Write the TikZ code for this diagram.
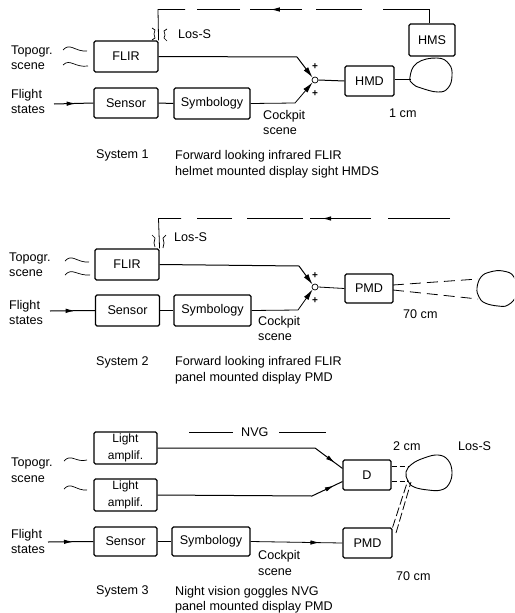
\documentclass[tikz,border=0pt]{standalone}
\usepackage{fontspec}
\setmainfont{Liberation Sans}
\usetikzlibrary{arrows.meta,decorations.markings}
\tikzset{
  blk/.style={draw,line width=1.1pt,rounded corners=1.5pt,inner sep=0pt,font=\fontsize{12.6}{14}\selectfont,align=center},
  lbl/.style={inner sep=0pt,anchor=base west,font=\fontsize{12.6}{14}\selectfont},
  sig/.style={line width=1pt},
  thin sig/.style={line width=0.8pt},
  wedgetip/.style={-{Latex[length=11pt,width=5.5pt]}},
  wedgeat/.style={postaction={decorate},decoration={markings,mark=at position #1 with {\arrow{Latex[length=9pt,width=4.5pt]}}}},
  eye/.style={dash pattern=on 11pt off 6pt,line width=0.8pt},
  jn/.style={circle,draw,fill=white,line width=0.7pt,minimum size=6pt,inner sep=0pt},
  wave/.style={line width=0.7pt}
}
\begin{document}
\begin{tikzpicture}[x=1pt,y=-1pt]
\useasboundingbox (0,0) rectangle (514,613);
\clip (0,0) rectangle (514,613);
% ---------- System 1
\node[blk,minimum width=64pt,minimum height=31pt] (flirA) at (126,56.5) {FLIR};
\node[blk,minimum width=64pt,minimum height=30pt] (senA) at (126,103) {Sensor};
\node[blk,minimum width=76pt,minimum height=31pt] (symA) at (212,103.5) {Symbology};
\node[blk,minimum width=49pt,minimum height=30pt] (hmd) at (369.5,81) {HMD};
\node[blk,minimum width=46pt,minimum height=32pt] (hms) at (432,40) {HMS};
\node[jn] (jA) at (315,80) {};
\coordinate (headAw) at (411,79);
\coordinate (fsA) at (54,104);
\coordinate (b1) at (297,57);
\coordinate (b2) at (295,103);
\coordinate (tA) at (429,9.5);
\coordinate (tB) at (158,9.5);
\draw[line width=0.9pt] plot[smooth cycle,tension=0.75] coordinates {(410,77) (417,63) (437,58) (449,64) (452,76) (448,88) (438,92) (421,88) (413,84)};
\draw[sig,wedgeat=0.55] (fsA) -- (senA.west);
\draw[sig] (senA.east) -- (symA.west);
\draw[sig,wedgetip] (flirA.east) -- (b1) -- (jA.north west);
\draw[thin sig,wedgetip] (symA.east) -- (b2) -- (jA.south west);
\draw[sig] (jA.east) -- (hmd.west);
\draw[thin sig] (hmd.east|-headAw) -- (headAw);
\draw[line width=0.9pt] (hms.north-|tA) -- (tA) -- (383,9.5);
\draw[line width=0.8pt] (362,9.5) -- (316,9.5);
\draw[line width=0.8pt,wedgeat=0.6] (302,9.5) -- (250,9.5);
\draw[line width=0.8pt] (240,9.5) -- (197,9.5);
\draw[line width=0.8pt] (185,9.5) -- (tB) -- (flirA.north east);
\node[lbl] (lA) at (178,38.5) {Los-S};
\node[lbl] (tA1) at (11,54.5) {Topogr.};
\node[lbl] (tA2) at (11,69.5) {scene};
\node[lbl] (fA1) at (11,98.5) {Flight};
\node[lbl] (fA2) at (11,113.5) {states};
\node[lbl] (cA1) at (263,119.5) {Cockpit};
\node[lbl] (cA2) at (263,134.5) {scene};
\node[lbl] (dA) at (389,117) {1 cm};
\node[lbl] (sA) at (96,158.5) {System 1};
\node[lbl] (dA1) at (175,159.5) {Forward looking infrared FLIR};
\node[lbl] (dA2) at (175,175) {helmet mounted display sight HMDS};
\node[lbl,font=\fontsize{10}{12}\bfseries] (pA1) at (312,69) {+};
\node[lbl,font=\fontsize{10}{12}\bfseries] (pA2) at (312,96) {+};
\draw[wave] (63,50) .. controls (70,42) and (75,52) .. (87,51);
\draw[wave] (63,65) .. controls (70,58) and (75,68) .. (88,66);
\draw[wave] (152,28) -- (155,30) -- (154,34) -- (155,38) -- (152,40);
\draw[wave] (167,29) -- (164,31) -- (165,35) -- (164,38) -- (167,41);
% ---------- System 2
\node[blk,minimum width=64pt,minimum height=31pt] (flirB) at (127,264.5) {FLIR};
\node[blk,minimum width=64pt,minimum height=31pt] (senB) at (127.5,310.5) {Sensor};
\node[blk,minimum width=77pt,minimum height=31pt] (symB) at (212.5,310.5) {Symbology};
\node[blk,minimum width=48pt,minimum height=29pt] (pmdB) at (369,288.5) {PMD};
\node[jn] (jB) at (315,287) {};
\coordinate (fsB) at (50,311);
\coordinate (c1) at (299,266);
\coordinate (c2) at (298,310);
\coordinate (eB1) at (478,279);
\coordinate (eB2) at (478,299);
\coordinate (pB1) at (393,285);
\coordinate (pB2) at (393,290);
\draw[line width=0.9pt] plot[smooth cycle,tension=0.7] coordinates {(477,288) (481,277) (490,272) (503,271) (514,277) (516,295) (508,305) (498,306) (485,303) (479,297)};
\draw[sig,wedgeat=0.55] (fsB) -- (senB.west);
\draw[sig] (senB.east) -- (symB.west);
\draw[sig,wedgetip] (flirB.east) -- (c1) -- (jB.north west);
\draw[thin sig,wedgetip] (symB.east) -- (c2) -- (jB.south west);
\draw[thin sig] (jB.east) -- (pmdB.west);
\draw[eye] (pB1) -- (eB1);
\draw[eye] (pB2) -- (eB2);
\draw[line width=0.8pt] (450,218.5) -- (388,218.5);
\draw[line width=0.9pt,wedgeat=0.8] (371,218.5) -- (310,218.5);
\draw[line width=0.8pt] (303,218.5) -- (247,218.5);
\draw[line width=0.8pt] (232,218.5) -- (197,218.5);
\coordinate (tC) at (158.5,218.5);
\draw[line width=0.8pt] (181,218.5) -- (tC) -- (flirB.north east);
\node[lbl] (lB) at (174,241.5) {Los-S};
\node[lbl] (tB1) at (9,261.5) {Topogr.};
\node[lbl] (tB2) at (9,276.5) {scene};
\node[lbl] (fB1) at (9,309) {Flight};
\node[lbl] (fB2) at (9,324.5) {states};
\node[lbl] (cB1) at (258,325.5) {Cockpit};
\node[lbl] (cB2) at (258,340.5) {scene};
\node[lbl] (dB) at (403,318) {70 cm};
\node[lbl] (sB) at (96,365.5) {System 2};
\node[lbl] (dB1) at (175,365.5) {Forward looking infrared FLIR};
\node[lbl] (dB2) at (175,381) {panel mounted display PMD};
\node[lbl,font=\fontsize{10}{12}\bfseries] (pB3) at (312,278) {+};
\node[lbl,font=\fontsize{10}{12}\bfseries] (pB4) at (312,303) {+};
\draw[wave] (65,261) .. controls (72,253) and (77,263) .. (89,262);
\draw[wave] (65,275) .. controls (72,267) and (77,276) .. (90,275);
\draw[wave] (152,235) -- (155,238) -- (154,243) -- (155,247);
\draw[wave] (166,235) -- (163,238) -- (164,243) -- (163,248);
% ---------- System 3
\node[blk,minimum width=63pt,minimum height=32pt,font=\fontsize{12}{16.5}\selectfont] (la1) at (125.5,448) {Light\\amplif.};
\node[blk,minimum width=63pt,minimum height=32pt,font=\fontsize{12}{16.5}\selectfont] (la2) at (125.5,495) {Light\\amplif.};
\node[blk,minimum width=63pt,minimum height=29pt] (senC) at (125.5,541.5) {Sensor};
\node[blk,minimum width=78pt,minimum height=29pt] (symC) at (211,541.5) {Symbology};
\node[blk,minimum width=48pt,minimum height=30pt] (dd) at (367,475) {D};
\node[blk,minimum width=49pt,minimum height=30pt] (pmdC) at (367.5,543) {PMD};
\coordinate (fsC) at (48,542);
\coordinate (d1) at (315,448);
\coordinate (d2) at (312,496);
\coordinate (hC1) at (408,466);
\coordinate (hC2) at (406,481);
\coordinate (hC3) at (408,480);
\coordinate (hC4) at (411,482);
\coordinate (nC1) at (189,432);
\coordinate (nC2) at (233,432);
\coordinate (nC3) at (279,432);
\coordinate (nC4) at (326,432);
\draw[line width=0.9pt] plot[smooth cycle,tension=0.7] coordinates {(406,472) (412,464) (424,458) (438,455) (448,460) (452,472) (449,484) (441,490) (428,490) (414,487) (408,481)};
\draw[sig,wedgeat=0.55] (fsC) -- (senC.west);
\draw[sig] (senC.east) -- (symC.west);
\draw[thin sig,wedgeat=0.75] (symC.east) -- (pmdC.west);
\draw[sig,wedgeat=0.95] (la1.east) -- (d1) -- (dd.165);
\draw[sig,wedgeat=0.95] (la2.east) -- (d2) -- (dd.195);
\draw[eye,dash pattern=on 5pt off 3pt] (dd.east|-hC1) -- (hC1);
\draw[eye,dash pattern=on 5pt off 3pt] (dd.east|-hC2) -- (hC2);
\draw[eye,dash pattern=on 9pt off 3pt] (pmdC.north east) -- (hC3);
\draw[eye,dash pattern=on 9pt off 3pt] (396,533) -- (hC4);
\draw[line width=0.8pt] (nC1) -- (nC2);
\draw[line width=0.8pt] (nC3) -- (nC4);
\node[lbl] (nvg) at (241,436.5) {NVG};
\node[lbl] (tC1) at (11,466) {Topogr.};
\node[lbl] (tC2) at (11,482) {scene};
\node[lbl] (fC1) at (11,538.5) {Flight};
\node[lbl] (fC2) at (11,553.5) {states};
\node[lbl] (cC1) at (258,559.5) {Cockpit};
\node[lbl] (cC2) at (258,575.5) {scene};
\node[lbl] (d2c) at (393,450) {2 cm};
\node[lbl] (lC) at (458,450.5) {Los-S};
\node[lbl] (d70) at (396,580) {70 cm};
\node[lbl] (sC) at (96,594) {System 3};
\node[lbl] (dC1) at (175,595) {Night vision goggles NVG};
\node[lbl] (dC2) at (175,610) {panel mounted display PMD};
\draw[wave] (64,461) .. controls (71,453) and (76,463) .. (87,460);
\draw[wave] (64,489) .. controls (71,481) and (76,491) .. (87,490);
\end{tikzpicture}
\end{document}
